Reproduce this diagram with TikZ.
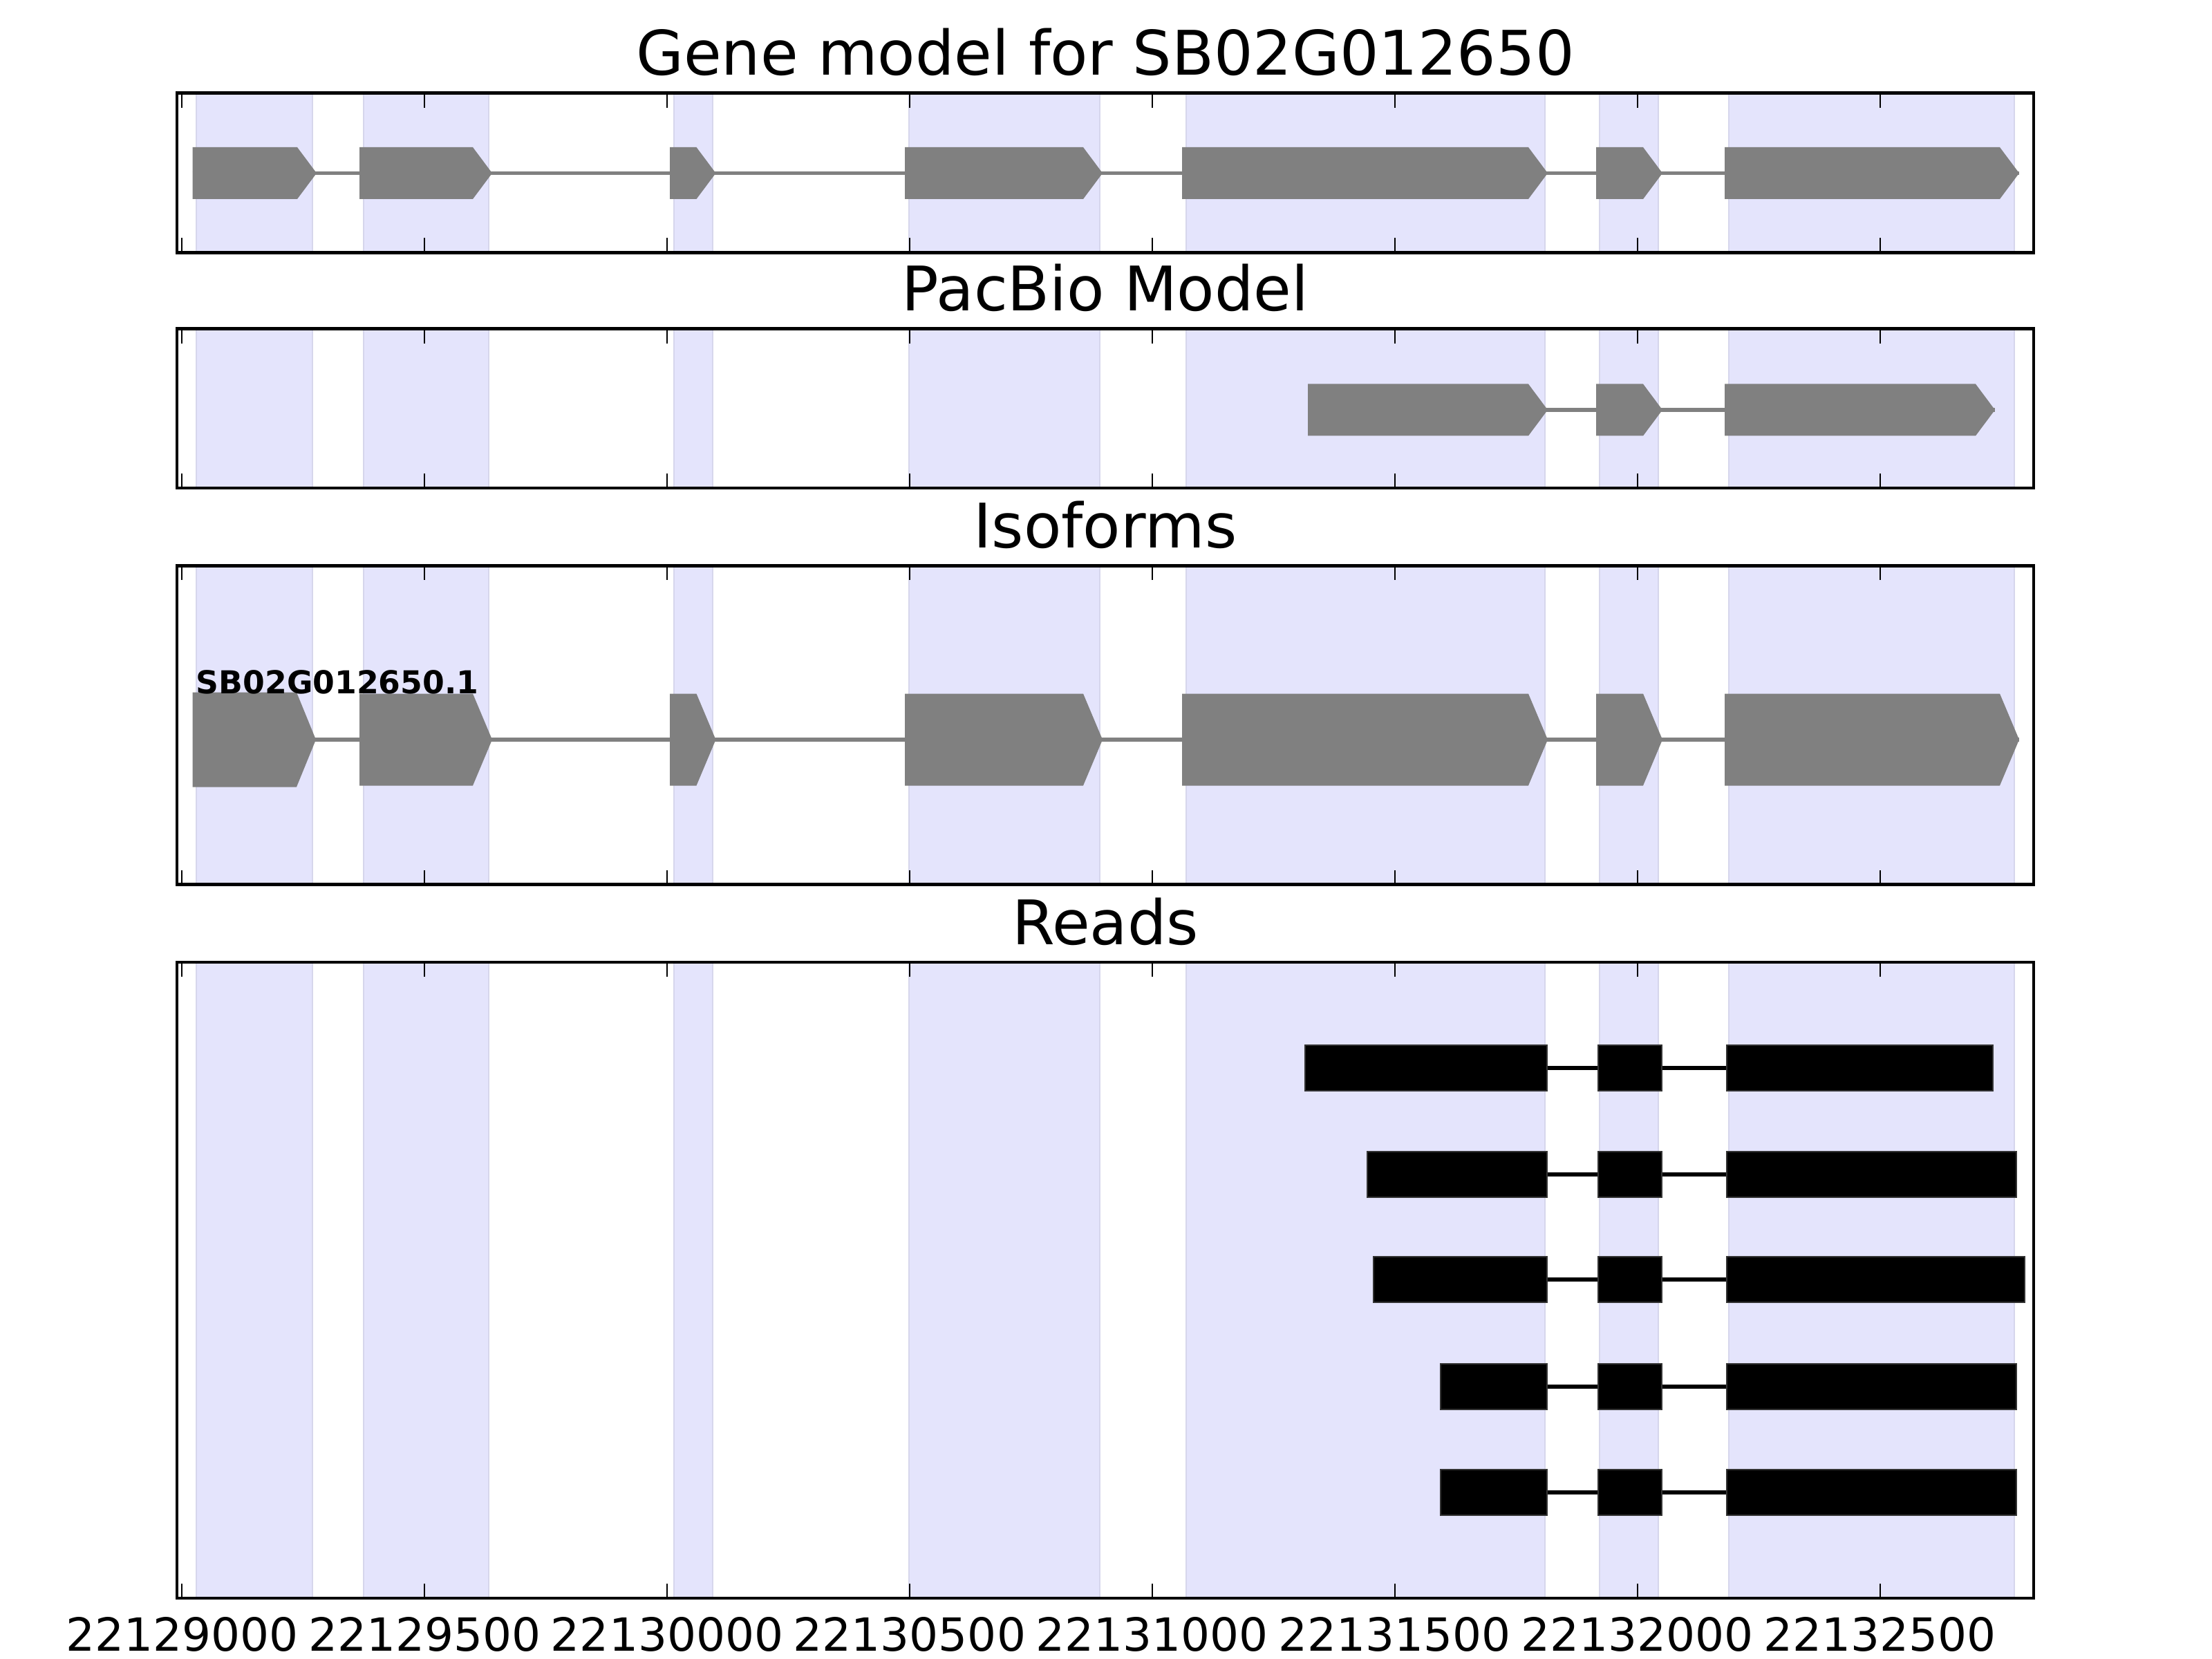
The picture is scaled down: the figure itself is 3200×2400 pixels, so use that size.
\documentclass[tikz,border=0pt]{standalone}
\usepackage{fontspec}
\setmainfont{DejaVu Sans}
\usepackage{xcolor}
\usetikzlibrary{positioning}
\definecolor{shade}{RGB}{228,228,252}
\definecolor{shadeedge}{RGB}{214,214,236}
\definecolor{exongray}{RGB}{128,128,128}

% one gene-model exon: start, tip, y centre, half height
\newcommand{\exonarrow}[4]{%
  \fill[exon] (#1,#3-#4) -- (#2-28,#3-#4) -- (#2,#3) -- (#2-28,#3+#4) -- (#1,#3+#4) -- cycle;}

\begin{document}
\begin{tikzpicture}[
  x=0.1mm, y=-0.1mm,
  font=\fontsize{25.3}{30}\selectfont,
  band/.style={fill=shade, draw=shadeedge, line width=0.2mm},
  frame/.style={draw=black, line width=0.45mm},
  tickmark/.style={draw=black, line width=0.2mm},
  exon/.style={fill=exongray},
  intron/.style={draw=exongray, line width=0.57mm},
  readblock/.style={fill=black, draw=black!80, line width=0.15mm},
  readline/.style={draw=black, line width=0.57mm},
  paneltitle/.style={anchor=base, inner sep=0pt},
  ticklabel/.style={anchor=base, inner sep=0pt, font=\fontsize{18.8}{22}\selectfont}
]
  \useasboundingbox (0,0) rectangle (3200,2400);

  % Panels — shaded exon bands, frame, ticks
  \foreach \top/\bot in {134.7/365.3, 475.6/706.2, 818.4/1279.7, 1392/2312} {
    \foreach \a/\b in {284/452, 525.5/707, 975/1031, 1315/1591, 1716/2235, 2314/2399, 2501/2914}
      \path[band] (\a,\top) rectangle (\b,\bot);
    \foreach \k in {0,...,7} {
      \draw[tickmark] (263.3+350.9*\k,\top) -- ++(0,21);
      \draw[tickmark] (263.3+350.9*\k,\bot) -- ++(0,-21);
    }
    \draw[frame] (256,\top) rectangle (2942,\bot);
  }

  % Titles
  \node[paneltitle] (genetitle) at (1599,108.8) {Gene model for SB02G012650};
  \node[paneltitle] (pacbiotitle) at (1599,449.6) {PacBio Model};
  \node[paneltitle] (isotitle) at (1599,792.4) {Isoforms};
  \node[paneltitle] (readstitle) at (1599,1366) {Reads};

  % Row 1 — gene model
  \draw[intron] (278.5,250.5) -- (2921,250.5);
  \foreach \s/\t in {278.5/458, 520/712, 969/1035.5, 1309/1595, 1710/2239, 2309/2405, 2495/2921}
    {\exonarrow{\s}{\t}{250.5}{37.5}}

  % Row 2 — PacBio model
  \draw[intron] (1892,593) -- (2886,593);
  \foreach \s/\t in {1892/2239, 2309/2405, 2495/2886}
    {\exonarrow{\s}{\t}{593}{37.5}}

  % Row 3 — isoforms
  \draw[intron] (278.5,1070) -- (2921,1070);
  \exonarrow{278.5}{457}{1070}{68.5}
  \foreach \s/\t in {520/712, 969/1035.5, 1309/1595, 1710/2239, 2309/2405, 2495/2921}
    {\exonarrow{\s}{\t}{1070}{66.5}}
  \node[anchor=base west, inner sep=0pt, font=\fontsize{13}{15}\selectfont\bfseries] (isolabel) at (283,1003) {SB02G012650.1};

  % Row 4 — reads
  \foreach \y/\s/\e in {1545/1888/2883, 1699/1978/2917, 1851/1987/2929, 2006/2084/2917, 2159/2084/2917} {
    \draw[readline] (\s,\y) -- (\e,\y);
    \path[readblock] (\s,\y-33) rectangle (2238,\y+33);
    \path[readblock] (2312,\y-33) rectangle (2404,\y+33);
    \path[readblock] (2498,\y-33) rectangle (\e,\y+33);
  }

  % Axis labels
  \foreach \k/\pos in {0/22129000, 1/22129500, 2/22130000, 3/22130500, 4/22131000, 5/22131500, 6/22132000, 7/22132500}
    \node[ticklabel] (tick\k) at (263.3+350.9*\k,2388) {\pos};
\end{tikzpicture}
\end{document}
